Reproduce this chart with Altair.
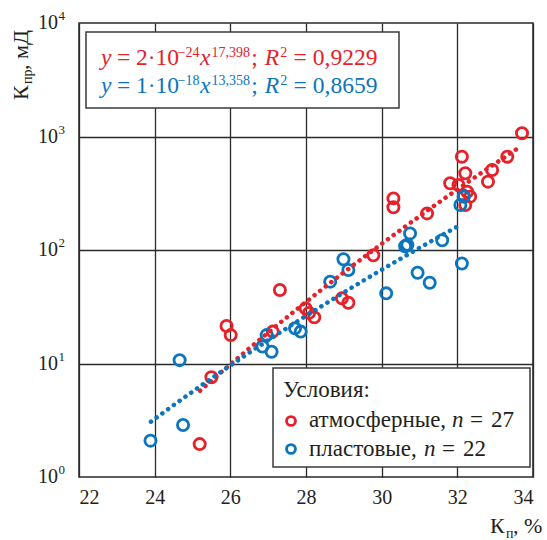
import altair as alt
import pandas as pd

# ---- data ----
atm_x = [33.71, 32.12, 33.32, 32.21, 32.92, 32.81, 31.81, 32.03, 32.26, 32.34,
         32.21, 30.31, 30.31, 31.20, 29.78, 28.95, 29.12, 25.90, 26.01, 25.50,
         25.19, 27.99, 28.22, 27.12, 27.31, 28.08, 32.17]
atm_y = [1067, 664, 664, 474, 507, 400, 387, 374, 326, 295,
         249, 285, 238, 210, 90, 37.5, 34.3, 21.4, 17.8, 7.56,
         1.95, 30.6, 25.5, 19.1, 44.4, 27.9, 300]
pl_x = [32.17, 32.08, 30.75, 30.68, 30.62, 31.60, 32.12, 30.95, 31.27, 30.12,
        28.99, 29.12, 28.64, 24.66, 24.75, 23.89, 26.96, 26.85, 27.09, 27.71,
        27.86, 30.65]
pl_y = [295, 249, 140, 111, 108, 122, 76, 63, 51.5, 41.5,
        82.8, 66.7, 52.6, 10.7, 2.87, 2.09, 17.8, 14.1, 12.7, 20.4,
        19.1, 109]
x_ticks = [22, 24, 26, 28, 30, 32, 34]
y_ticks = [1, 10, 100, 1000, 10000]
y_exps = ["0", "1", "2", "3", "4"]

RED = "#E62129"
BLUE = "#0B75BE"
INK = "#231f20"
FONT = "Times New Roman"
OX, OY = 79, 23  # plot origin on page

df = pd.DataFrame({
    "porosity": atm_x + pl_x,
    "perm": atm_y + pl_y,
    "group": ["atm"] * len(atm_x) + ["pl"] * len(pl_x),
})
one = pd.DataFrame({"k": [0]})

xscale = alt.Scale(domain=[22, 34], nice=False, zero=False)
yscale = alt.Scale(type="log", domain=[1, 10000], nice=False)


def txt(s, x, y, size, color=INK, italic=False, angle=0):
    kw = dict(text=s, font=FONT, fontSize=size, color=color, align="left", baseline="alphabetic")
    if italic:
        kw["fontStyle"] = "italic"
    if angle:
        kw["angle"] = angle
    return alt.Chart(one).mark_text(**kw).encode(x=alt.value(x - OX), y=alt.value(y - OY))


W = {",": 0.25, "·": 0.25, "=": 0.564, "−": 0.564, ";": 0.278, " ": 0.25,
     "y": 0.444, "x": 0.444, "R": 0.611, "n": 0.5}


def layout(pieces, x0, y0, color, main=23.5, sup=14):
    out = []
    x = x0
    for s, it, is_sup, gap in pieces:
        fs = sup if is_sup else main
        x += gap * main
        yy = y0 - (8.5 if is_sup else 0)
        out.append(txt(s, x, yy, fs, color, italic=it))
        x += sum(W.get(c, 0.5) for c in s) * fs
    return out


def eq(a, e, p, r):
    return [("y", True, 0, 0), ("=", False, 0, 0.24), (a + "·10", False, 0, 0.24),
            ("−" + e, False, 1, 0.02), ("x", True, 0, 0.02), (p, False, 1, 0.05),
            (";", False, 0, 0.05), ("R", True, 0, 0.3), ("2", False, 1, 0.05),
            ("=", False, 0, 0.26), (r, False, 0, 0.26)]


points = alt.Chart(df).mark_point(shape="circle", filled=False, size=125, strokeWidth=2.8, opacity=1).encode(
    x=alt.X("porosity:Q", scale=xscale,
            axis=alt.Axis(values=x_ticks, grid=True, gridColor="#2a2a2a", gridWidth=1.3, ticks=False,
                          domain=False, labelFont=FONT, labelFontSize=20, labelColor=INK,
                          labelPadding=10, title=None)),
    y=alt.Y("perm:Q", scale=yscale,
            axis=alt.Axis(values=[10, 100, 1000], grid=True, gridColor="#2a2a2a", gridWidth=1.3,
                          labels=False, ticks=False, domain=False, title=None)),
    color=alt.Color("group:N", scale=alt.Scale(domain=["atm", "pl"], range=[RED, BLUE]), legend=None),
)


def trend(group, color, extent):
    return alt.Chart(df).transform_filter(f"datum.group == '{group}'").transform_regression(
        "porosity", "perm", method="pow", extent=extent
    ).mark_line(color=color, strokeWidth=4.5, strokeDash=[0.1, 7], strokeCap="round").encode(
        x=alt.X("porosity:Q", scale=xscale), y=alt.Y("perm:Q", scale=yscale)
    )


red_line = trend("atm", RED, [25.2, 33.7])
blue_line = trend("pl", BLUE, [23.9, 32.1])

yt = pd.DataFrame({"v": y_ticks, "e": y_exps})
ylab = alt.Chart(yt).mark_text(font=FONT, fontSize=20, color=INK, align="right", baseline="middle").encode(
    x=alt.value(58 - OX), y=alt.Y("v:Q", scale=yscale), text=alt.value("10"))
ysup = alt.Chart(yt).mark_text(font=FONT, fontSize=13, color=INK, align="left", baseline="middle", dy=-7).encode(
    x=alt.value(58.5 - OX), y=alt.Y("v:Q", scale=yscale), text="e:N")

eq_box = alt.Chart(one).mark_rect(fill="white", stroke="#3a3a3a", strokeWidth=1.5).encode(
    x=alt.value(86 - OX), x2=alt.value(399 - OX), y=alt.value(32 - OY), y2=alt.value(108 - OY))
leg_box = alt.Chart(one).mark_rect(fill="white", stroke="#3a3a3a", strokeWidth=1.5).encode(
    x=alt.value(273 - OX), x2=alt.value(530 - OX), y=alt.value(368 - OY), y2=alt.value(467 - OY))

eq_layers = layout(eq("2", "24", "17,398", "0,9229"), 101, 65, RED) + \
    layout(eq("1", "18", "13,358", "0,8659"), 101, 93, BLUE)

leg_mark = alt.Chart(pd.DataFrame({"c": [RED, BLUE], "yy": [421 - OY, 449 - OY]})).mark_point(
    shape="circle", filled=False, size=80, strokeWidth=2.8, opacity=1).encode(
    x=alt.value(291 - OX), y=alt.Y("yy:Q", scale=None), color=alt.Color("c:N", scale=None))

leg_text = [
    txt("Условия:", 283, 397, 23),
    txt("атмосферные,", 309, 427, 23),
    txt("n", 452, 427, 23, italic=True),
    txt("=", 470, 427, 23),
    txt("27", 491, 427, 23),
    txt("пластовые,", 309, 456, 23),
    txt("n", 424, 456, 23, italic=True),
    txt("=", 442, 456, 23),
    txt("22", 463, 456, 23),
]

axis_titles = [
    txt("К", 28, 100, 22, angle=270),
    txt("пр", 32, 84, 14, angle=270),
    txt(", мД", 28, 70, 22, angle=270),
    txt("К", 490, 533, 22),
    txt("п", 506, 538, 14),
    txt(", %", 513, 533, 22),
]

chart = alt.layer(
    points, eq_box, leg_box, red_line, blue_line, ylab, ysup, leg_mark,
    *eq_layers, *leg_text, *axis_titles
).properties(
    width=454, height=454,
    autosize=alt.AutoSizeParams(type="none"),
    padding={"left": OX, "top": OY, "right": 14, "bottom": 63},
    background="white",
).configure_view(stroke="#2a2a2a", strokeWidth=1.5)

chart.save("out.html", embed_options={"renderer": "svg", "actions": False})
